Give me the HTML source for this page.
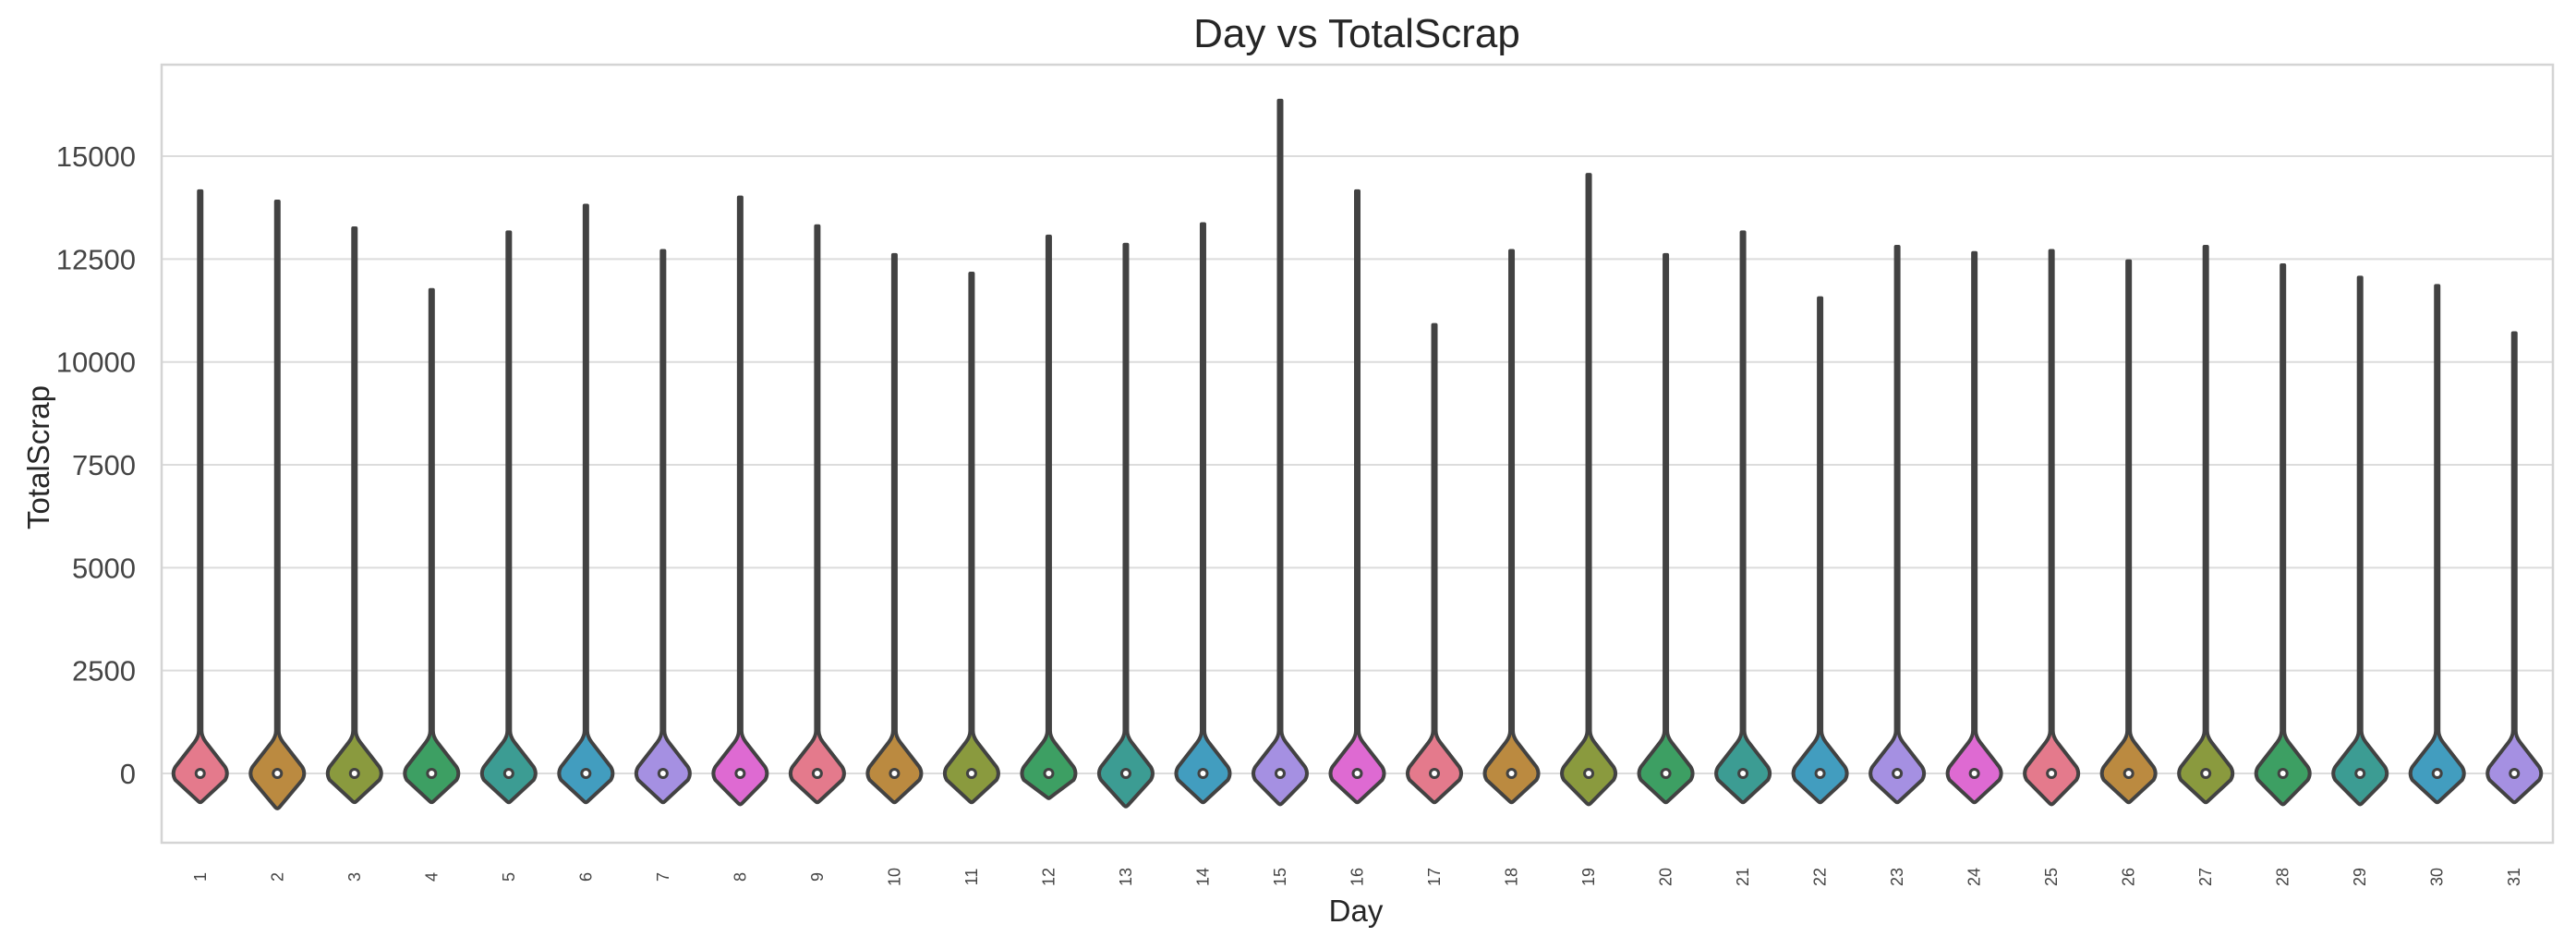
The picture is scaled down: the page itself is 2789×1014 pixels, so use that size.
<!DOCTYPE html>
<html><head><meta charset="utf-8"><style>
html,body{margin:0;padding:0;background:#fff;}
svg{display:block;font-family:"Liberation Sans",Arial,sans-serif;}
</style></head><body>
<svg id="chart" width="2789" height="1014" viewBox="0 0 2789 1014">
<text x="1469" y="51" font-size="44" fill="#262626" text-anchor="middle">Day vs TotalScrap</text>
<g id="grid"></g>
<g id="violins"></g>
<g id="ticks"></g>
<rect x="175" y="70" width="2589" height="842" fill="none" stroke="#d4d4d4" stroke-width="2.5"/>
<text x="1468" y="997" font-size="33" fill="#262626" text-anchor="middle">Day</text>
<text transform="translate(53,495) rotate(-90)" font-size="33" fill="#262626" text-anchor="middle">TotalScrap</text>
</svg>
<script>
const days = ["1","2","3","4","5","6","7","8","9","10","11","12","13","14","15","16","17","18","19","20","21","22","23","24","25","26","27","28","29","30","31"];
const maxValues = [14150,13900,13250,11750,13150,13800,12700,14000,13300,12600,12150,13050,12850,13350,16350,14150,10900,12700,14550,12600,13150,11550,12800,12650,12700,12450,12800,12350,12050,11850,10700];
const minValues = [-700,-850,-700,-700,-700,-700,-700,-750,-700,-700,-700,-600,-800,-700,-750,-700,-700,-700,-750,-700,-700,-700,-700,-700,-750,-700,-700,-750,-750,-700,-700];
const medianValues = [0,0,0,0,0,0,0,0,0,0,0,0,0,0,0,0,0,0,0,0,0,0,0,0,0,0,0,0,0,0,0];
const yTicks = [0,2500,5000,7500,10000,12500,15000];
const palette = ["#e47a8c","#bb8a40","#8a9a3e","#3d9f63","#3c9c93","#429dbf","#a590e2","#de6ad2"];

const NS="http://www.w3.org/2000/svg";
const plotL=175, plotR=2764, y0px=837, pxPerUnit=0.04453;
const band=(plotR-plotL)/days.length;
function xScale(i){return plotL+band*(i+0.5);}
function yScale(v){return y0px-v*pxPerUnit;}
function mk(tag,attrs,parent){const e=document.createElementNS(NS,tag);for(const k in attrs)e.setAttribute(k,attrs[k]);parent.appendChild(e);return e;}

const grid=document.getElementById('grid'), ticks=document.getElementById('ticks'), vg=document.getElementById('violins');
yTicks.forEach(t=>{
  const l=mk('line',{x1:plotL,x2:plotR,y1:yScale(t),y2:yScale(t),stroke:'#dcdcdc','stroke-width':2},grid);
  
  
  const tx=mk('text',{x:147,y:yScale(t)+11,'font-size':31,fill:'#444','text-anchor':'end'},ticks);
  tx.textContent=t;
  
  
});
days.forEach((d,i)=>{
  const cx=xScale(i), top=yScale(maxValues[i]), bot=yScale(minValues[i]), c=yScale(medianValues[i]);
  const w=30, nw=1.5, neck=yScale(900);
  const path=`M${cx-nw},${top} L${cx+nw},${top} L${cx+nw},${neck-6} Q${cx+nw},${neck} ${cx+6},${neck+6} L${cx+w-3},${c-7} Q${cx+w+1},${c} ${cx+w-3},${c+7} L${cx+2},${bot-1} Q${cx},${bot+1} ${cx-2},${bot-1} L${cx-w+3},${c+7} Q${cx-w-1},${c} ${cx-w+3},${c-7} L${cx-6},${neck+6} Q${cx-nw},${neck} ${cx-nw},${neck-6} Z`;
  const p=mk('path',{d:path,fill:palette[i%palette.length],stroke:'#424242','stroke-width':4,'stroke-linejoin':'round'},vg);
  
  
  const m=mk('circle',{cx:cx,cy:c,r:6,fill:'#424242'},vg);
  
  
  const w2=mk('circle',{cx:cx,cy:c,r:3,fill:'#fff'},vg);
  
  
  const tx=mk('text',{transform:`translate(${cx+6},949) rotate(-90)`,'font-size':18,fill:'#444','text-anchor':'middle'},ticks);
  tx.textContent=d;
  
  
});
</script>
</body></html>
